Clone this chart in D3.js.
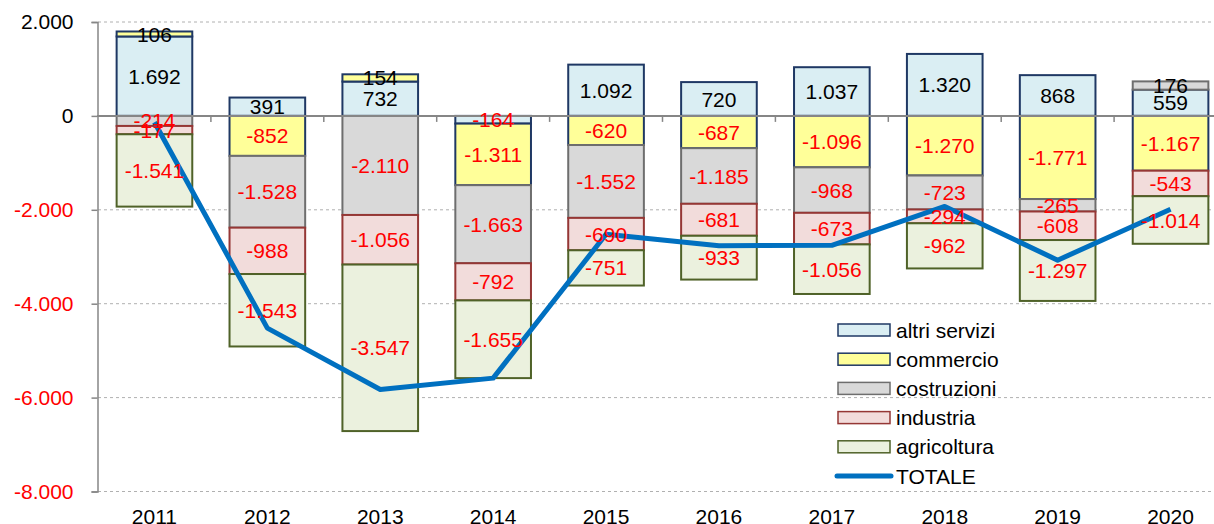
<!DOCTYPE html>
<html lang="it">
<head>
  <meta charset="UTF-8">
  <title>Saldo imprese per settore</title>
  <script src="https://d3js.org/d3.v7.min.js"></script>
  <style>
    body {
      margin: 0;
      padding: 0;
      background: white;
    }
    text {
      font-family: "Liberation Sans", Arial, sans-serif;
      font-size: 21px;
    }
  </style>
</head>
<body>
  <script>
    // Chart data
    const years = ["2011", "2012", "2013", "2014", "2015", "2016", "2017", "2018", "2019", "2020"];
    const sectors = ["altri servizi", "commercio", "costruzioni", "industria", "agricoltura"];

    const altriServizi = [1692, 391, 732, -164, 1092, 720, 1037, 1320, 868, 559];
    const commercio    = [106, -852, 154, -1311, -620, -687, -1096, -1270, -1771, -1167];
    const costruzioni  = [-214, -1528, -2110, -1663, -1552, -1185, -968, -723, -265, 176];
    const industria    = [-177, -988, -1056, -792, -690, -681, -673, -294, -608, -543];
    const agricoltura  = [-1541, -1543, -3547, -1655, -751, -933, -1056, -962, -1297, -1014];

    const yTicks = [2000, 0, -2000, -4000, -6000, -8000];

    const fills   = ["#DAEEF3", "#FFFF99", "#D9D9D9", "#F2DCDB", "#EBF1DE"];
    const strokes = ["#1F3864", "#1F3864", "#6E6E6E", "#953735", "#4F6228"];

    const series = [altriServizi, commercio, costruzioni, industria, agricoltura];
    const rows = years.map((y, i) => {
      const r = { year: y };
      sectors.forEach((s, k) => r[s] = series[k][i]);
      return r;
    });
    const totals = rows.map(r => ({ year: r.year, total: d3.sum(sectors, s => r[s]) }));

    const width = 1214, height = 524;

    const svg = d3.select("body").append("svg")
      .attr("width", width)
      .attr("height", height);

    const x = d3.scaleBand()
      .domain(years)
      .range([98, 1227])
      .paddingInner(0.33)
      .paddingOuter(0.165);

    const y = d3.scaleLinear()
      .domain([-8000, 2000])
      .range([491.5, 22]);

    // italian style: dot for thousands, plain hyphen for minus
    const locale = d3.formatLocale({ decimal: ",", thousands: ".", grouping: [3], currency: ["", "€"], minus: "-" });
    const fmt = locale.format(",");

    // dashed gridlines
    svg.append("g")
      .selectAll("line")
      .data(yTicks.filter(t => t !== 0))
      .enter().append("line")
      .attr("x1", 98).attr("x2", width)
      .attr("y1", d => y(d)).attr("y2", d => y(d))
      .attr("stroke", "#B0B0B0")
      .attr("stroke-width", 1)
      .attr("stroke-dasharray", "3,3");

    // stacked bars
    const stacked = d3.stack()
      .keys(sectors)
      .offset(d3.stackOffsetDiverging)(rows);

    const layers = svg.append("g")
      .selectAll("g")
      .data(stacked)
      .enter().append("g")
      .attr("fill", (d, i) => fills[i])
      .attr("stroke", (d, i) => strokes[i])
      .attr("stroke-width", 2);

    layers.selectAll("rect")
      .data(d => d)
      .enter().append("rect")
      .attr("x", d => x(d.data.year))
      .attr("width", x.bandwidth())
      .attr("y", d => y(Math.max(d[0], d[1])))
      .attr("height", d => Math.abs(y(d[0]) - y(d[1])));

    // y axis
    const yAxis = svg.append("g")
      .attr("transform", "translate(97.5,0)")
      .call(d3.axisLeft(y).tickValues(yTicks).tickSize(6).tickPadding(18).tickFormat(fmt));
    yAxis.select(".domain").attr("stroke", "#868686").attr("stroke-width", 1.5);
    yAxis.selectAll(".tick line").attr("stroke", "#868686").attr("stroke-width", 1.5);
    yAxis.selectAll(".tick text")
      .style("font-size", "21px")
      .style("font-family", "'Liberation Sans', Arial, sans-serif")
      .attr("fill", d => d < 0 ? "#FF0000" : "#000");

    // category axis on zero line
    const xAxis = svg.append("g")
      .attr("transform", `translate(0,${y(0)})`);
    xAxis.append("line")
      .attr("x1", 97).attr("x2", width)
      .attr("stroke", "#868686").attr("stroke-width", 2);
    xAxis.selectAll(".tk")
      .data(years.slice(1))
      .enter().append("line")
      .attr("class", "tk")
      .attr("x1", d => x(d) - x.step() * x.paddingInner() / 2)
      .attr("x2", d => x(d) - x.step() * x.paddingInner() / 2)
      .attr("y1", 0).attr("y2", 6)
      .attr("stroke", "#868686").attr("stroke-width", 1.5);

    // year labels at the bottom
    svg.append("g")
      .selectAll("text")
      .data(years)
      .enter().append("text")
      .attr("x", d => x(d) + x.bandwidth() / 2)
      .attr("y", 524)
      .attr("text-anchor", "middle")
      .attr("fill", "#000")
      .text(d => d);

    // total line
    const line = d3.line()
      .x(d => x(d.year) + x.bandwidth() / 2)
      .y(d => y(d.total));

    svg.append("path")
      .datum(totals)
      .attr("fill", "none")
      .attr("stroke", "#0070C0")
      .attr("stroke-width", 5)
      .attr("stroke-linejoin", "round")
      .attr("d", line);

    // segment labels
    svg.append("g")
      .selectAll("g")
      .data(stacked)
      .enter().append("g")
      .selectAll("text")
      .data(d => d.map(p => ({ p, v: p.data[d.key] })))
      .enter().append("text")
      .attr("x", d => x(d.p.data.year) + x.bandwidth() / 2)
      .attr("y", d => (y(d.p[0]) + y(d.p[1])) / 2)
      .attr("dy", "0.36em")
      .attr("text-anchor", "middle")
      .attr("fill", d => d.v < 0 ? "#FF0000" : "#000")
      .text(d => fmt(d.v));

    // legend
    const legend = svg.append("g")
      .attr("transform", "translate(838,330)");

    const items = legend.selectAll("g")
      .data(sectors.concat(["TOTALE"]))
      .enter().append("g")
      .attr("transform", (d, i) => `translate(0,${i * 29.2})`);

    items.filter((d, i) => i < sectors.length)
      .append("rect")
      .attr("x", 0).attr("y", -6)
      .attr("width", 52).attr("height", 12)
      .attr("fill", (d, i) => fills[i])
      .attr("stroke", (d, i) => strokes[i])
      .attr("stroke-width", 1.5);

    items.filter(d => d === "TOTALE")
      .append("line")
      .attr("x1", -1).attr("x2", 53)
      .attr("stroke", "#0070C0")
      .attr("stroke-width", 5)
      .attr("stroke-linecap", "round");

    items.append("text")
      .attr("x", 58)
      .attr("dy", "0.36em")
      .attr("fill", "#000")
      .text(d => d);
  </script>
</body>
</html>
